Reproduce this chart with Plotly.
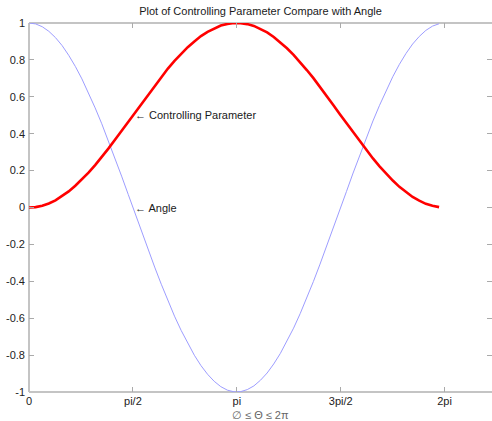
import numpy as np
import plotly.graph_objects as go

# sample positions (theta, 0 : 0.1 : 6.2)
theta = [round(0.1 * k, 1) for k in range(63)]

angle = [1.000, 0.995, 0.980, 0.955, 0.921, 0.878, 0.825, 0.765, 0.697, 0.622,
         0.540, 0.454, 0.362, 0.267, 0.170, 0.071, -0.029, -0.129, -0.227, -0.323,
         -0.416, -0.505, -0.589, -0.666, -0.737, -0.801, -0.857, -0.904, -0.942, -0.971,
         -0.990, -0.999, -0.998, -0.987, -0.967, -0.936, -0.897, -0.848, -0.791, -0.726,
         -0.654, -0.575, -0.490, -0.401, -0.307, -0.211, -0.112, -0.012, 0.087, 0.187,
         0.284, 0.378, 0.469, 0.554, 0.635, 0.709, 0.776, 0.835, 0.886, 0.927,
         0.960, 0.983, 0.996]

control = [0.000, 0.002, 0.010, 0.022, 0.039, 0.061, 0.087, 0.118, 0.152, 0.189,
           0.230, 0.273, 0.319, 0.367, 0.415, 0.465, 0.515, 0.564, 0.613, 0.662,
           0.708, 0.753, 0.795, 0.833, 0.869, 0.900, 0.929, 0.952, 0.971, 0.986,
           0.995, 1.000, 0.999, 0.994, 0.984, 0.968, 0.949, 0.924, 0.896, 0.863,
           0.827, 0.788, 0.745, 0.701, 0.654, 0.606, 0.556, 0.506, 0.457, 0.407,
           0.358, 0.311, 0.266, 0.223, 0.183, 0.146, 0.112, 0.083, 0.057, 0.037,
           0.020, 0.009, 0.002]

x_tickvals = [0, np.pi / 2, np.pi, 3 * np.pi / 2, 2 * np.pi]
x_ticktext = ["0", "pi/2", "pi", "3pi/2", "2pi"]
y_tickvals = [-1, -0.8, -0.6, -0.4, -0.2, 0, 0.2, 0.4, 0.6, 0.8, 1]
y_ticktext = ["-1", "-0.8", "-0.6", "-0.4", "-0.2", "0", "0.2", "0.4", "0.6", "0.8", "1"]

title_text = "Plot of Controlling Parameter Compare with Angle"
xlabel_text = "∅ ≤ Θ ≤ 2π"

FONT = "Liberation Sans, Arial, sans-serif"
AXC = "#c4c4c4"

fig = go.Figure()
fig.add_trace(go.Scatter(x=theta, y=angle, mode="lines",
                         line=dict(color="#9d9dff", width=1), name="Angle"))
fig.add_trace(go.Scatter(x=theta, y=control, mode="lines",
                         line=dict(color="#ff0000", width=2.6), name="Controlling Parameter"))

fig.add_annotation(x=np.pi / 2, y=0.5, xref="x", yref="y", text="← Controlling Parameter",
                   showarrow=False, xanchor="left", yanchor="middle",
                   font=dict(family=FONT, size=11, color="#1a1a1a"))
fig.add_annotation(x=np.pi / 2, y=0.0, xref="x", yref="y", text="← Angle",
                   showarrow=False, xanchor="left", yanchor="middle",
                   font=dict(family=FONT, size=11, color="#1a1a1a"))
fig.add_annotation(x=0.5, y=-(415 - 392) / 369, xref="paper", yref="paper", text=xlabel_text,
                   showarrow=False, xanchor="center", yanchor="middle",
                   font=dict(family=FONT, size=11, color="#666666"))

# box lines: left, bottom, top (right edge falls just outside the picture)
for x0, y0, x1, y1 in [(0, 0, 0, 1), (0, 0, 1, 0), (0, 1, 1, 1)]:
    fig.add_shape(type="line", xref="paper", yref="paper", x0=x0, y0=y0, x1=x1, y1=y1,
                  line=dict(color=AXC, width=2), layer="below")

fig.update_layout(
    width=492, height=421,
    margin=dict(l=29, r=0, t=23, b=29),
    paper_bgcolor="white", plot_bgcolor="white",
    showlegend=False,
    title=dict(text=title_text, x=0.5, xref="paper", xanchor="center",
               y=1 - 11 / 421, yref="container", yanchor="middle",
               font=dict(family=FONT, size=11, color="#1a1a1a")),
    font=dict(family=FONT, size=11, color="#222222"),
)
fig.update_xaxes(range=[0, 7], tickvals=x_tickvals, ticktext=x_ticktext,
                 showline=False, mirror="ticks",
                 ticks="inside", ticklen=5, tickcolor="#aaaaaa", tickwidth=1,
                 showgrid=False, zeroline=False, ticklabelstandoff=1,
                 tickfont=dict(family=FONT, size=11, color="#222222"))
fig.update_yaxes(range=[-1, 1], tickvals=y_tickvals, ticktext=y_ticktext,
                 showline=False, mirror="ticks",
                 ticks="inside", ticklen=5, tickcolor="#aaaaaa", tickwidth=1,
                 showgrid=False, zeroline=False, ticklabelstandoff=3,
                 tickfont=dict(family=FONT, size=11, color="#222222"))

fig.write_html("out.html")
